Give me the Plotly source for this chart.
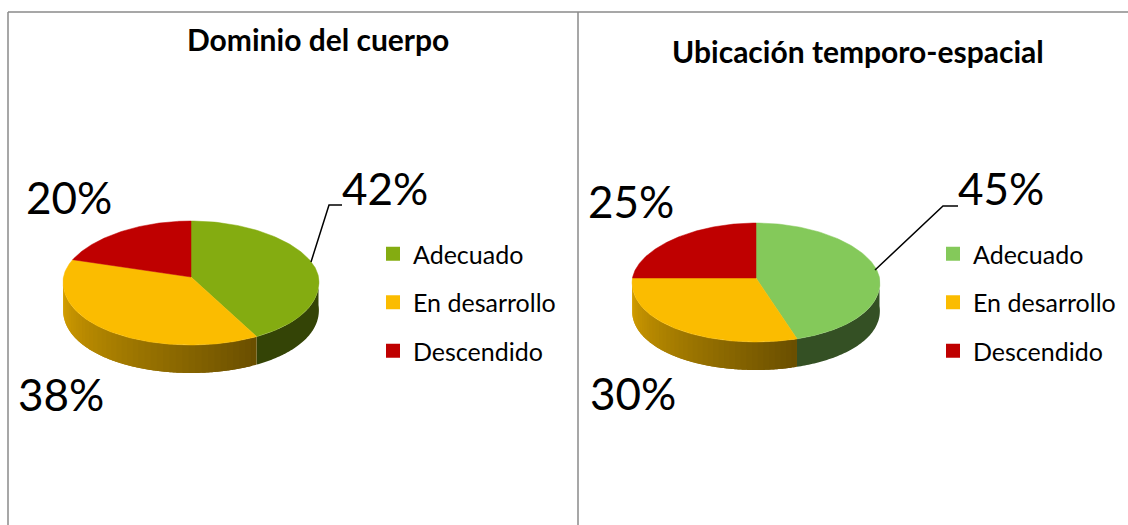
import numpy as np
import plotly.graph_objects as go

categories = ["Adecuado", "En desarrollo", "Descendido"]
left_title = "Dominio del cuerpo"
right_title = "Ubicación temporo-espacial"
left_values = [42, 38, 20]
right_values = [45, 30, 25]
left_colors = ["#84AC11", "#FBBC00", "#BF0000"]
right_colors = ["#84C95A", "#FBBC00", "#BF0000"]
FONT = "Lato"
GRAY = "#8A8A8A"
PERSPECTIVE = 0.078


def arc(p, a0, a1, n=120):
    t = np.linspace(a0, a1, n)
    c = np.cos(t)
    x = p["cx"] + p["rx"] * np.sin(t) * (1 - PERSPECTIVE * c)
    y = p["cy"] - np.where(c > 0, p["up"], p["dn"]) * c
    return x, y


def lerp(col, f):
    r, g, b = int(col[1:3], 16), int(col[3:5], 16), int(col[5:7], 16)
    return f"rgb({int(r*f)},{int(g*f)},{int(b*f)})"


fig = go.Figure()


def pie(values, colors, p, legend_name):
    fr = np.cumsum([0] + values) / sum(values) * 2 * np.pi
    shades = p["shades"]
    # side wall, visible on the lower half only; strips run right to left and overlap
    for i, col in enumerate(colors):
        a0, a1 = max(fr[i], np.pi / 2), min(fr[i + 1], 3 * np.pi / 2)
        if a1 <= a0:
            continue
        strips = 44 if shades[i][0] != shades[i][1] else 1
        edges = np.linspace(a0, a1, strips + 1)
        for k in range(strips):
            end = edges[min(k + 2, strips)]
            x, y = arc(p, edges[k], end, 10 if strips > 1 else 80)
            f = shades[i][1] + (shades[i][0] - shades[i][1]) * (k + 0.5) / strips
            c = lerp(col, f)
            fig.add_trace(go.Scatter(
                x=np.r_[x, x[::-1]], y=np.r_[y, y[::-1] + p["th"]],
                mode="none", fill="toself", fillcolor=c,
                showlegend=False, hoverinfo="skip"))
    # top face
    for i, col in enumerate(colors):
        x, y = arc(p, fr[i], fr[i + 1])
        fig.add_trace(go.Scatter(
            x=np.r_[p["cx"], x, p["cx"]], y=np.r_[p["cy"], y, p["cy"]],
            mode="lines", fill="toself", fillcolor=col,
            line=dict(color=col, width=0.5), showlegend=False,
            text=f"{categories[i]}: {values[i]}%", hoverinfo="text"))
    # legend entries
    for i, col in enumerate(colors):
        fig.add_trace(go.Scatter(
            x=[None], y=[None], mode="markers", name=categories[i],
            marker=dict(symbol="square", size=14, color=col),
            legend=legend_name, legendgroup=f"{legend_name}{i}", hoverinfo="skip"))


pie(left_values, left_colors,
    dict(cx=191, cy=277, rx=127.5, up=56, dn=68, th=28,
         shades=[(0.4, 0.4), (0.88, 0.42), (1, 1)]), "legend")
pie(right_values, right_colors,
    dict(cx=756, cy=278, rx=123.5, up=55, dn=64, th=28,
         shades=[(0.4, 0.4), (0.88, 0.42), (1, 1)]), "legend2")

notes = []
for txt, x, y in [(left_title, 318, 39), (right_title, 858, 51)]:
    notes.append(dict(text=f"<b>{txt}</b>", x=x, y=y, showarrow=False,
                      font=dict(family=FONT, size=30, color="#000")))
label_pos = [((385, 188), (61, 394), (69, 197)), ((1001, 188), (633, 393), (631, 201))]
for vals, pos in zip((left_values, right_values), label_pos):
    for v, (x, y) in zip(vals, pos):
        notes.append(dict(text=f"{v}%", x=x, y=y, showarrow=False,
                          font=dict(family=FONT, size=44, color="#000")))

line = dict(color=GRAY, width=1.5)
shapes = [
    dict(type="line", xref="x", yref="y", x0=8, x1=8, y0=12, y1=525, line=line),
    dict(type="line", xref="x", yref="y", x0=8, x1=1128, y0=12, y1=12, line=line),
    dict(type="line", xref="x", yref="y", x0=578, x1=578, y0=12, y1=525, line=line),
]
for pts in ([(311, 262), (329, 205), (342, 205)], [(875, 270), (943, 206), (958, 206)]):
    path = "M " + " L ".join(f"{a},{b}" for a, b in pts)
    shapes.append(dict(type="path", path=path, xref="x", yref="y",
                       line=dict(color="#000", width=1.5)))


def legend_style(x):
    return dict(x=x, y=(525 - 231) / 525, xanchor="left", yanchor="top",
                bgcolor="rgba(0,0,0,0)", tracegroupgap=13, itemclick=False,
                itemdoubleclick=False, font=dict(family=FONT, size=25, color="#000"))


fig.update_layout(
    width=1128, height=525, autosize=False,
    margin=dict(l=0, r=0, t=0, b=0),
    paper_bgcolor="#fff", plot_bgcolor="#fff",
    xaxis=dict(range=[0, 1128], visible=False, fixedrange=True),
    yaxis=dict(range=[525, 0], visible=False, fixedrange=True),
    annotations=notes, shapes=shapes,
    legend=legend_style(373 / 1128),
    legend2=legend_style(933 / 1128),
    hovermode="closest",
)
fig.write_html("out.html", config={"displayModeBar": False},
               post_script="document.body.style.margin='0';document.body.style.overflow='hidden';")
